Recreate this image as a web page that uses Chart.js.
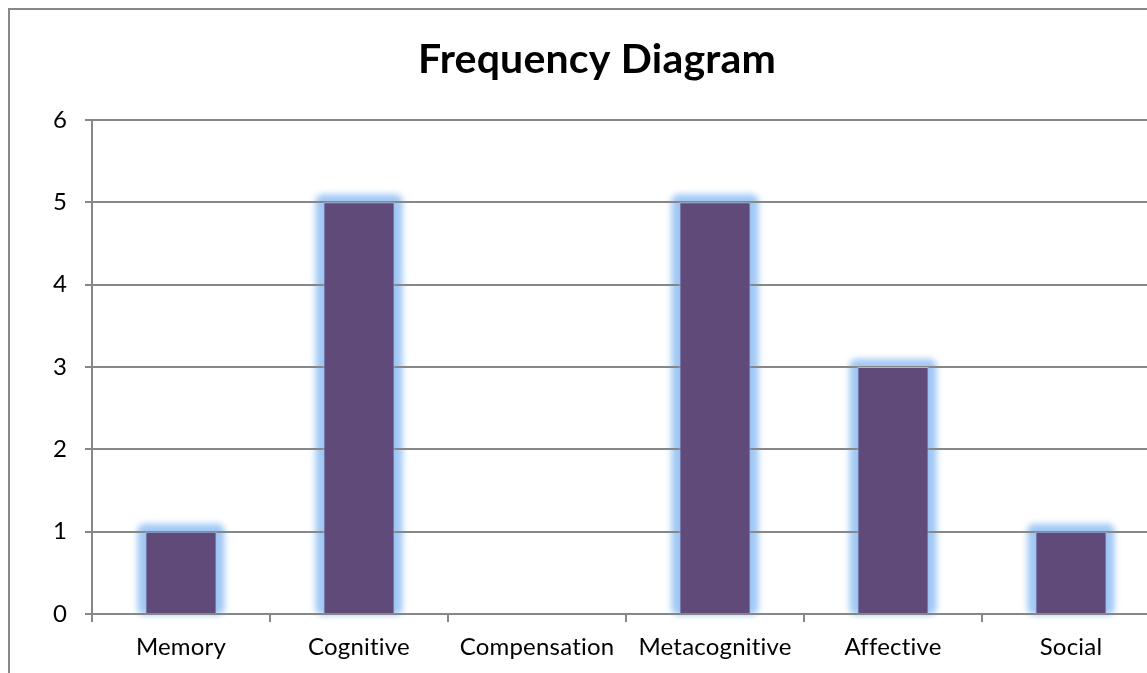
<!DOCTYPE html>
<html>
<head>
<meta charset="utf-8">
<script src="https://cdn.jsdelivr.net/npm/chart.js@4.4.1/dist/chart.umd.min.js"></script>
<style>
  html, body { margin: 0; padding: 0; background: #ffffff; overflow: hidden; width: 1147px; height: 673px; }
  #wrap { position: absolute; left: 0; top: 0; width: 1200px; height: 700px; }
</style>
</head>
<body>
<div id="wrap"><canvas id="c" width="1200" height="700"></canvas></div>
<script>
const titleText = "Frequency Diagram";
const categories = ["Memory", "Cognitive", "Compensation", "Metacognitive", "Affective", "Social"];
const frequencies = [1, 5, 0, 5, 3, 1];
const yTicks = [0, 1, 2, 3, 4, 5, 6];

const FONT = "Lato, 'Open Sans', 'DejaVu Sans', sans-serif";
const GRID = "#878787";

const framePlugin = {
  id: 'frame',
  beforeDraw(chart) {
    const ctx = chart.ctx;
    ctx.letterSpacing = '0.2px';
    ctx.save();
    ctx.fillStyle = '#ffffff';
    ctx.fillRect(0, 0, chart.width, chart.height);
    ctx.strokeStyle = '#878787';
    ctx.lineWidth = 2;
    ctx.strokeRect(9, 9, 1177, chart.height - 18);
    ctx.restore();

    // soft glow behind bars (under the grid lines)
    const meta = chart.getDatasetMeta(0);
    ctx.save();
    ctx.filter = 'blur(3px)';
    ctx.fillStyle = 'rgba(160,200,245,1)';
    meta.data.forEach(el => {
      const p = el.getProps(['x', 'y', 'base', 'width'], true);
      const h = p.base - p.y;
      if (h <= 0) return;
      const pad = 8;
      ctx.beginPath();
      ctx.roundRect(p.x - p.width / 2 - pad, p.y - pad, p.width + 2 * pad, h + pad + 2, 7);
      ctx.fill();
    });
    ctx.restore();
  },
  afterDraw(chart) {
    const ctx = chart.ctx;
    ctx.save();
    ctx.fillStyle = '#000000';
    ctx.font = "bold 41px " + FONT;
    ctx.textAlign = 'center';
    ctx.textBaseline = 'middle';
    ctx.fillText(titleText, 597, 60);
    ctx.restore();
  }
};

new Chart(document.getElementById('c'), {
  type: 'bar',
  data: {
    labels: categories,
    datasets: [{
      label: 'Frequency',
      data: frequencies,
      backgroundColor: '#5f4a7a',
      borderColor: 'rgba(150,185,235,1)',
      borderWidth: 1,
      barPercentage: 0.4,
      categoryPercentage: 1.0
    }]
  },
  options: {
    responsive: false,
    animation: false,
    devicePixelRatio: 1,
    layout: { padding: { left: 0, right: 40, top: 120, bottom: 0 } },
    plugins: {
      legend: { display: false },
      tooltip: { enabled: false },
      title: { display: false }
    },
    scales: {
      x: {
        grid: { display: true, drawOnChartArea: false, drawTicks: true, tickLength: 8, color: GRID, lineWidth: 2, offset: true },
        border: { display: true, color: GRID, width: 2 },
        ticks: { color: '#000000', font: { family: FONT, size: 24 }, padding: 11, maxRotation: 0, autoSkip: false },
        afterFit(scale) { scale.height = 86; }
      },
      y: {
        min: 0, max: 6,
        afterBuildTicks(scale) { scale.ticks = yTicks.map(v => ({ value: v })); },
        grid: { color: GRID, lineWidth: 2, drawTicks: true, tickLength: 7 },
        border: { display: true, color: GRID, width: 2 },
        ticks: { color: '#000000', font: { family: FONT, size: 24 }, padding: 18 },
        afterFit(scale) { scale.width = 92; }
      }
    }
  },
  plugins: [framePlugin]
});
</script>
</body>
</html>
